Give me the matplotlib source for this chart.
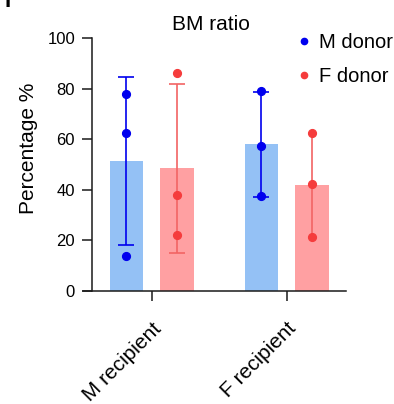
import matplotlib
matplotlib.use("Agg")
import matplotlib.pyplot as plt
import numpy as np
from matplotlib.lines import Line2D

plt.rcParams['font.family'] = ['Liberation Sans', 'DejaVu Sans']

categories = ["M recipient", "F recipient"]
series = ["M donor", "F donor"]
# individual points per group (M donor, F donor)
m_donor_points = [[77.9, 62.3, 14.0], [79.0, 57.3, 37.7]]
f_donor_points = [[86.0, 37.8, 22.0], [62.3, 42.4, 21.2]]
m_donor_mean = [51.4, 58.0]
f_donor_mean = [48.6, 42.0]
m_donor_sd = [33.3, 20.7]
f_donor_sd = [33.4, 20.6]
yticks = [0, 20, 40, 60, 80, 100]

bar_colors = ["#94C1F5", "#FFA0A2"]
pt_colors = ["#0000EE", "#F53C3C"]
err_colors = ["#0000EE", "#F26464"]
capsizes = [[6, 6], [6, 0]]

W, H = 394, 404
fig = plt.figure(figsize=(W / 100, H / 100), dpi=100)
ax = fig.add_axes([83 / W, 113 / H, (346 - 83) / W, (366 - 113) / H])

x = np.arange(len(categories))
off = 0.1875
bw = 0.25
means = [m_donor_mean, f_donor_mean]
sds = [m_donor_sd, f_donor_sd]
pts = [m_donor_points, f_donor_points]
for s in range(2):
    xs = x + (-off if s == 0 else off)
    ax.bar(xs, means[s], width=bw, color=bar_colors[s], zorder=1)
    for i in range(len(categories)):
        ax.errorbar([xs[i]], [means[s][i]], yerr=[sds[s][i]], fmt='none',
                    ecolor=err_colors[s], elinewidth=1.2, capsize=capsizes[s][i],
                    capthick=1.2, zorder=2)
        ax.plot([xs[i]] * len(pts[s][i]), pts[s][i], 'o', color=pt_colors[s],
                markersize=5.6, zorder=3, linestyle='none')

ax.set_xlim(-0.509, 1.439)
ax.set_ylim(0, 100)
ax.spines['top'].set_visible(False)
ax.spines['right'].set_visible(False)
ax.spines['left'].set_position(('data', -0.442))
for sp in ['left', 'bottom']:
    ax.spines[sp].set_linewidth(1.1)
    ax.spines[sp].set_color('#1a1a1a')
ax.set_yticks(yticks)
ax.set_xticks(x)
ax.set_xticklabels(categories, rotation=45, ha='right', rotation_mode='anchor',
                   fontsize=15)
ax.tick_params(axis='both', direction='out', length=7.2, width=1.1, color='#1a1a1a')
ax.tick_params(axis='y', labelsize=12, pad=5)
ax.tick_params(axis='x', pad=13)
ax.set_ylabel("Percentage %", fontsize=15)
ax.yaxis.set_label_coords((38 - 83) / 263, (291 - 148) / 253)

fig.text(211 / W, 1 - 24 / H, "BM ratio", fontsize=15, ha='center', va='center')

handles = [Line2D([], [], marker='o', linestyle='none', color=pt_colors[i], markersize=4.5)
           for i in range(2)]
ax.legend(handles, series, loc='upper left', bbox_to_anchor=(294 / W, 1 - 33 / H),
          bbox_transform=fig.transFigure, frameon=False, fontsize=14.5,
          handletextpad=0.25, labelspacing=0.75, handlelength=1.0, borderpad=0,
          borderaxespad=0)

fig.text(4 / W, 1 - 7 / H, "I", fontsize=16, fontweight='bold', ha='left', va='baseline')

fig.savefig("out.png", dpi=100)
